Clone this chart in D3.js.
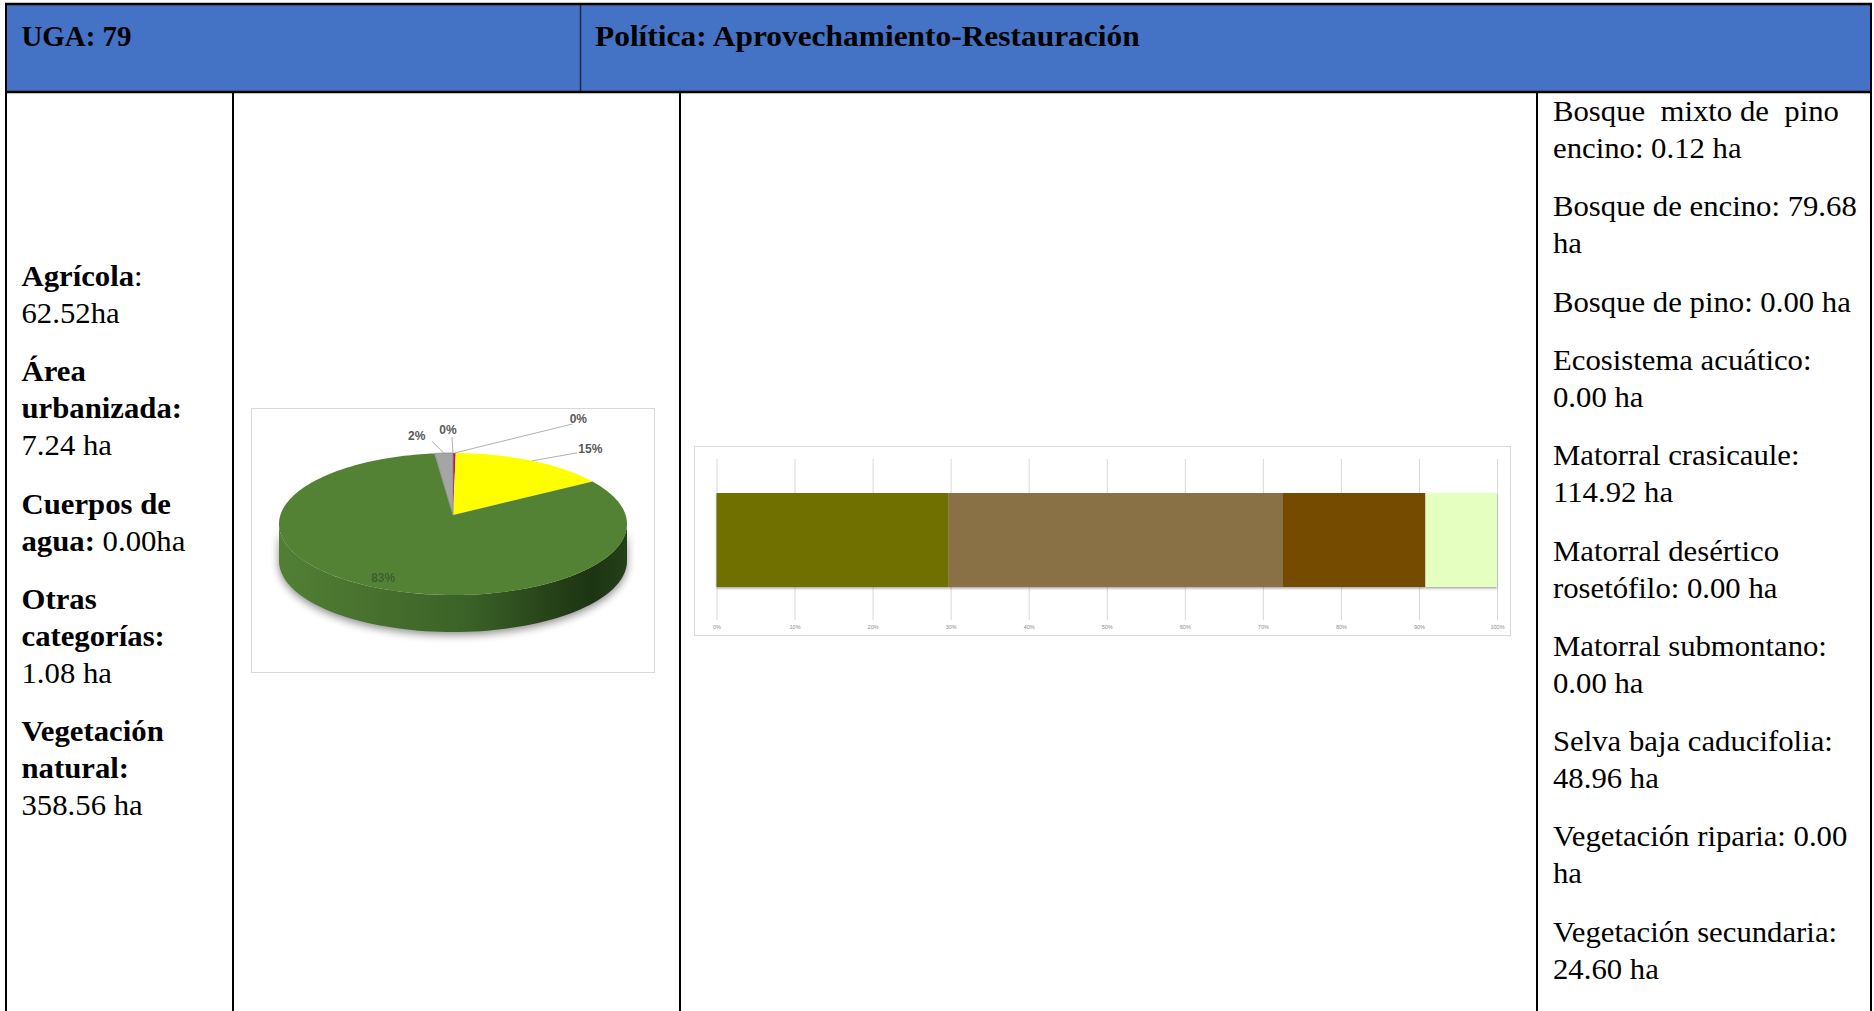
<!DOCTYPE html>
<html><head><meta charset="utf-8">
<script src="https://cdn.jsdelivr.net/npm/d3@7"></script>
<style>html,body{margin:0;padding:0;background:#fff;overflow:hidden}</style>
</head><body>
<svg id="c" width="1874" height="1011"></svg>
<script>
// ---------------- DATA ----------------
const headerLeft = "UGA: 79";
const headerRight = "Política: Aprovechamiento-Restauración";

// left column (land use summary), runs: [text, bold]
const leftParagraphs = [
  [[["Agrícola", true], [":", false]], [["62.52ha", false]]],
  [[["Área", true]], [["urbanizada:", true]], [["7.24 ha", false]]],
  [[["Cuerpos de", true]], [["agua:", true], [" 0.00ha", false]]],
  [[["Otras", true]], [["categorías:", true]], [["1.08 ha", false]]],
  [[["Vegetación", true]], [["natural:", true]], [["358.56 ha", false]]]
];

// pie (land use) in drawing order, clockwise from 12 o'clock
const pieCategories = ["Cuerpos de agua", "Otras categorías", "Agrícola", "Vegetación natural", "Área urbanizada"];
const pieValues = [0.00, 1.08, 62.52, 358.56, 7.24];
const pieLabels = ["0%", "0%", "15%", "83%", "2%"];
const pieColors = ["#4472C4", "#C0175A", "#FFFF00", "#548235", "#A5A5A5"];
const pieSideColors = ["#2f5597", "#8a0f40", "#bfbf00", "url(#greenSide)", "#7f7f7f"];

// stacked 100% bar (natural vegetation)
const vegCategories = ["Bosque mixto de pino encino", "Bosque de encino", "Bosque de pino", "Ecosistema acuático",
  "Matorral crasicaule", "Matorral desértico rosetófilo", "Matorral submontano", "Selva baja caducifolia",
  "Vegetación riparia", "Vegetación secundaria"];
const vegValues = [0.12, 79.68, 0.00, 0.00, 114.92, 0.00, 0.00, 48.96, 0.00, 24.60];
const vegColors = ["#2E6B2E", "#707000", "#1E5C1E", "#5B9BD5", "#8A7045", "#C9A66B", "#A0522D", "#744C00", "#00B0A0", "#E5FFC0"];
const barTicks = [0, 0.1, 0.2, 0.3, 0.4, 0.5, 0.6, 0.7, 0.8, 0.9, 1.0];

// right column text
const rightParagraphs = [
  ["Bosque  mixto de  pino", "encino: 0.12 ha"],
  ["Bosque de encino: 79.68", "ha"],
  ["Bosque de pino: 0.00 ha"],
  ["Ecosistema acuático:", "0.00 ha"],
  ["Matorral crasicaule:", "114.92 ha"],
  ["Matorral desértico", "rosetófilo: 0.00 ha"],
  ["Matorral submontano:", "0.00 ha"],
  ["Selva baja caducifolia:", "48.96 ha"],
  ["Vegetación riparia: 0.00", "ha"],
  ["Vegetación secundaria:", "24.60 ha"]
];

// ---------------- LAYOUT ----------------
const svg = d3.select("#c");
const defs = svg.append("defs");
const SERIF = "'Liberation Serif', 'DejaVu Serif', serif";

// table frame
svg.append("rect").attr("x", 6).attr("y", 4).attr("width", 1865).attr("height", 88).attr("fill", "#4472C4");
const frame = svg.append("g").attr("stroke", "#000");
[[5, 4, 1872, 4, 2.5], [6, 3, 6, 1011, 2], [1871, 3, 1871, 1011, 2], [5, 92, 1872, 92, 2.5],
 [233, 92, 233, 1011, 2], [680, 92, 680, 1011, 2], [1537, 92, 1537, 1011, 2]].forEach(l => {
  frame.append("line").attr("x1", l[0]).attr("y1", l[1]).attr("x2", l[2]).attr("y2", l[3]).attr("stroke-width", l[4]);
});
frame.append("line").attr("x1", 580.5).attr("y1", 5).attr("x2", 580.5).attr("y2", 91)
  .attr("stroke", "#1d2b4a").attr("stroke-width", 1.5);

// text helper with horizontal scale to mimic the original (wider) serif face
function measure(str, size, bold) {
  const t = svg.append("text").attr("font-family", SERIF).attr("font-size", size)
    .attr("font-weight", bold ? "bold" : "normal").style("white-space", "pre").text(str);
  const w = t.node().getComputedTextLength(); t.remove(); return w;
}
const HEAD_SIZE = 29, BODY_SIZE = 28.5;
const headScale = 545 / measure(headerRight, HEAD_SIZE, true);
const bodyScale = 298 / measure("Bosque de pino: 0.00 ha", BODY_SIZE, false);

function drawLine(x, y, runs, size, sx) {
  const t = svg.append("text").attr("transform", `translate(${x},${y}) scale(${sx},1)`)
    .attr("font-family", SERIF).attr("font-size", size).attr("fill", "#000").style("white-space", "pre");
  runs.forEach(r => t.append("tspan").attr("font-weight", r[1] ? "bold" : "normal").text(r[0]));
}

drawLine(21.5, 46, [[headerLeft, true]], HEAD_SIZE, headScale * 0.92);
drawLine(595, 46, [[headerRight, true]], HEAD_SIZE, headScale);

const LINE = 37, PARA = 58.3;
(function () {
  let y = 286;
  leftParagraphs.forEach((p, i) => {
    if (i > 0) y += PARA;
    p.forEach((ln, j) => { if (j > 0) y += LINE; drawLine(21.5, y, ln, BODY_SIZE, bodyScale); });
  });
  y = 121;
  rightParagraphs.forEach((p, i) => {
    if (i > 0) y += PARA;
    p.forEach((ln, j) => { if (j > 0) y += LINE; drawLine(1553, y, [[ln, false]], BODY_SIZE, bodyScale); });
  });
})();

// ---------------- PIE (3D look) ----------------
svg.append("rect").attr("x", 251.5).attr("y", 408.5).attr("width", 403).attr("height", 264)
  .attr("fill", "#fff").attr("stroke", "#d9d9d9").attr("stroke-width", 1);

const P = { cx: 453, cy: 524, rx: 174, ry: 71, depth: 37, apexLift: 9 };
const g1 = defs.append("linearGradient").attr("id", "greenSide").attr("gradientUnits", "userSpaceOnUse")
  .attr("x1", P.cx - P.rx).attr("x2", P.cx + P.rx).attr("y1", 0).attr("y2", 0);
[[0, "#527f35"], [0.3, "#466f2d"], [0.55, "#3a6127"], [0.75, "#28461a"], [0.9, "#1d3413"], [1, "#24401a"]]
  .forEach(s => g1.append("stop").attr("offset", s[0]).attr("stop-color", s[1]));
const blur = defs.append("filter").attr("id", "pieShadow").attr("x", "-20%").attr("y", "-20%").attr("width", "140%").attr("height", "150%");
blur.append("feGaussianBlur").attr("stdDeviation", 4);

const pie = d3.pie().sort(null).value(d => d)(pieValues);
const ept = (a, dy) => [P.cx + P.rx * Math.sin(a), P.cy - P.ry * Math.cos(a) + (dy || 0)];
const lineGen = d3.line();

function sidePath(a0, a1) {
  const s = Math.max(a0, Math.PI / 2), e = Math.min(a1, 3 * Math.PI / 2);
  if (e <= s) return null;
  const n = 80, top = [], bot = [];
  for (let i = 0; i <= n; i++) { const a = s + (e - s) * i / n; top.push(ept(a)); bot.push(ept(a, P.depth)); }
  return lineGen(top.concat(bot.reverse())) + "Z";
}
// top face of a slice: apex (slightly raised for perspective) to the elliptical rim
function topPath(a0, a1) {
  const n = Math.max(2, Math.ceil((a1 - a0) / 0.02)), pts = [[P.cx, P.cy - P.apexLift]];
  for (let i = 0; i <= n; i++) pts.push(ept(a0 + (a1 - a0) * i / n));
  return lineGen(pts) + "Z";
}
// shadow
svg.append("path").attr("d", sidePath(0, 2 * Math.PI))
  .attr("transform", "translate(0,3)").attr("fill", "#000").attr("opacity", 0.45).attr("filter", "url(#pieShadow)");
// sides
svg.append("g").selectAll("path").data(pie).join("path")
  .attr("d", d => sidePath(d.startAngle, d.endAngle)).attr("fill", (d, i) => pieSideColors[i]);
// top faces
svg.append("g").selectAll("path").data(pie).join("path")
  .attr("d", d => topPath(d.startAngle, d.endAngle)).attr("fill", (d, i) => pieColors[i])
  .attr("stroke", (d, i) => i === 4 ? "#8a8a8a" : "none").attr("stroke-width", 0.8);

// labels: offset of label centre from the rim point at the slice mid-angle (index = pie order)
const labelOffsets = [[-5, -23], [124, -34], [58, -12], [-5, -7], [-27, -17]];
const leaderEnds = [[-1, -16], [118, -29], [45, -8], null, [-12, -12]];
const labelFills = ["#595959", "#595959", "#595959", "#3b5230", "#595959"];
const lab = svg.append("g").attr("font-family", "'Liberation Sans', Arial, sans-serif").attr("font-weight", "bold").attr("font-size", 12);
pie.forEach((d, i) => {
  const mid = (d.startAngle + d.endAngle) / 2;
  const inside = i === 3;
  const rim = inside ? [P.cx + P.rx * 0.93 * Math.sin(mid), P.cy - P.ry * 0.93 * Math.cos(mid)] : ept(mid);
  const lx = rim[0] + labelOffsets[i][0], ly = rim[1] + labelOffsets[i][1];
  if (leaderEnds[i]) {
    lab.append("line").attr("x1", rim[0]).attr("y1", rim[1])
      .attr("x2", rim[0] + leaderEnds[i][0]).attr("y2", rim[1] + leaderEnds[i][1])
      .attr("stroke", "#b0b0b0").attr("stroke-width", 1);
  }
  lab.append("text").attr("x", lx).attr("y", ly).attr("dy", "0.35em").attr("text-anchor", "middle")
    .attr("fill", labelFills[i]).attr("opacity", inside ? 0.8 : 1).text(pieLabels[i]);
});

// ---------------- STACKED 100% BAR ----------------
svg.append("rect").attr("x", 694.5).attr("y", 446.5).attr("width", 816).attr("height", 189)
  .attr("fill", "#fff").attr("stroke", "#d9d9d9").attr("stroke-width", 1);
const x = d3.scaleLinear().domain([0, 1]).range([716.5, 1497]);
const y = d3.scaleBand().domain(["Vegetación natural"]).range([459, 621]).paddingInner(0).paddingOuter(0.362);

const axis = svg.append("g").attr("transform", `translate(0,620)`)
  .call(d3.axisBottom(x).tickValues(barTicks).tickFormat(d3.format(".0%")).tickSize(-(620 - 459)).tickPadding(5));
axis.select(".domain").remove();
axis.selectAll(".tick line").attr("stroke", "#d9d9d9").attr("stroke-width", 1);
axis.selectAll(".tick text").attr("font-size", 5.5).attr("fill", "#8c8c8c")
  .attr("font-family", "'Liberation Sans', Arial, sans-serif");

const row = {}; vegCategories.forEach((c, i) => row[c] = vegValues[i]);
const stack = d3.stack().keys(vegCategories).offset(d3.stackOffsetExpand)([row]);
const sh = defs.append("filter").attr("id", "barShadow").attr("x", "-5%").attr("y", "-20%").attr("width", "110%").attr("height", "150%");
sh.append("feDropShadow").attr("dx", 0).attr("dy", 1.5).attr("stdDeviation", 1).attr("flood-color", "#000").attr("flood-opacity", 0.35);
svg.append("g").attr("filter", "url(#barShadow)").selectAll("rect").data(stack).join("rect")
  .attr("x", s => x(s[0][0])).attr("width", s => x(s[0][1]) - x(s[0][0]))
  .attr("y", y("Vegetación natural")).attr("height", y.bandwidth())
  .attr("fill", (s, i) => vegColors[i]);
</script>
</body></html>
